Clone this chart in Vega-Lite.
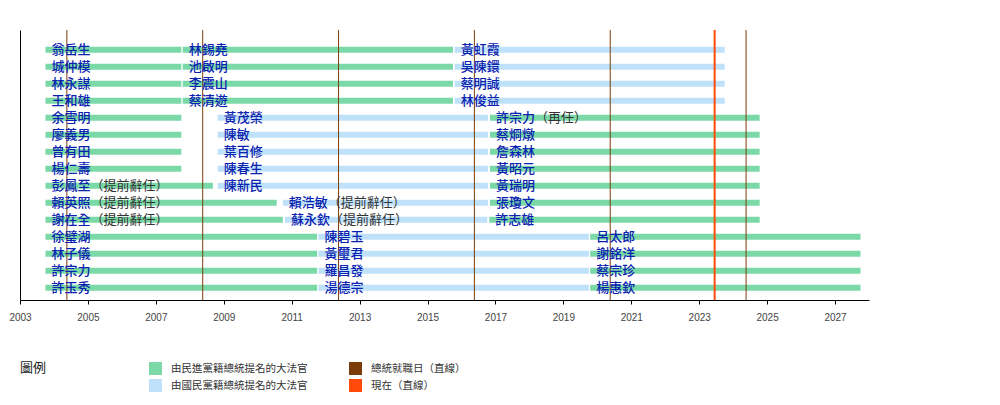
{
  "$schema": "https://vega.github.io/schema/vega-lite/v6.json",
  "autosize": {"type": "none"},
  "width": 849,
  "height": 270,
  "padding": {"left": 20, "top": 30, "right": 131, "bottom": 105},
  "background": "white",
  "config": {"view": {"stroke": null}, "font": "Noto Sans CJK TC"},
  "datasets": {
    "segs": [
      {"row": 1, "start": 2003.75, "end": 2007.75, "party": "由民進黨籍總統提名的大法官", "name": "翁岳生", "note": ""},
      {"row": 2, "start": 2003.75, "end": 2007.75, "party": "由民進黨籍總統提名的大法官", "name": "城仲模", "note": ""},
      {"row": 3, "start": 2003.75, "end": 2007.75, "party": "由民進黨籍總統提名的大法官", "name": "林永謀", "note": ""},
      {"row": 4, "start": 2003.75, "end": 2007.75, "party": "由民進黨籍總統提名的大法官", "name": "王和雄", "note": ""},
      {"row": 1, "start": 2007.79, "end": 2015.75, "party": "由民進黨籍總統提名的大法官", "name": "林錫堯", "note": ""},
      {"row": 2, "start": 2007.79, "end": 2015.75, "party": "由民進黨籍總統提名的大法官", "name": "池啟明", "note": ""},
      {"row": 3, "start": 2007.79, "end": 2015.75, "party": "由民進黨籍總統提名的大法官", "name": "李震山", "note": ""},
      {"row": 4, "start": 2007.79, "end": 2015.75, "party": "由民進黨籍總統提名的大法官", "name": "蔡清遊", "note": ""},
      {"row": 1, "start": 2015.8, "end": 2023.75, "party": "由國民黨籍總統提名的大法官", "name": "黃虹霞", "note": ""},
      {"row": 2, "start": 2015.8, "end": 2023.75, "party": "由國民黨籍總統提名的大法官", "name": "吳陳鐶", "note": ""},
      {"row": 3, "start": 2015.8, "end": 2023.75, "party": "由國民黨籍總統提名的大法官", "name": "蔡明誠", "note": ""},
      {"row": 4, "start": 2015.8, "end": 2023.75, "party": "由國民黨籍總統提名的大法官", "name": "林俊益", "note": ""},
      {"row": 5, "start": 2003.75, "end": 2007.75, "party": "由民進黨籍總統提名的大法官", "name": "余雪明", "note": ""},
      {"row": 6, "start": 2003.75, "end": 2007.75, "party": "由民進黨籍總統提名的大法官", "name": "廖義男", "note": ""},
      {"row": 7, "start": 2003.75, "end": 2007.75, "party": "由民進黨籍總統提名的大法官", "name": "曾有田", "note": ""},
      {"row": 8, "start": 2003.75, "end": 2007.75, "party": "由民進黨籍總統提名的大法官", "name": "楊仁壽", "note": ""},
      {"row": 5, "start": 2008.82, "end": 2016.78, "party": "由國民黨籍總統提名的大法官", "name": "黃茂榮", "note": ""},
      {"row": 6, "start": 2008.82, "end": 2016.78, "party": "由國民黨籍總統提名的大法官", "name": "陳敏", "note": ""},
      {"row": 7, "start": 2008.82, "end": 2016.78, "party": "由國民黨籍總統提名的大法官", "name": "葉百修", "note": ""},
      {"row": 8, "start": 2008.82, "end": 2016.78, "party": "由國民黨籍總統提名的大法官", "name": "陳春生", "note": ""},
      {"row": 5, "start": 2016.84, "end": 2024.78, "party": "由民進黨籍總統提名的大法官", "name": "許宗力", "note": "（再任）"},
      {"row": 6, "start": 2016.84, "end": 2024.78, "party": "由民進黨籍總統提名的大法官", "name": "蔡烱燉", "note": ""},
      {"row": 7, "start": 2016.84, "end": 2024.78, "party": "由民進黨籍總統提名的大法官", "name": "詹森林", "note": ""},
      {"row": 8, "start": 2016.84, "end": 2024.78, "party": "由民進黨籍總統提名的大法官", "name": "黃昭元", "note": ""},
      {"row": 9, "start": 2003.75, "end": 2008.68, "party": "由民進黨籍總統提名的大法官", "name": "彭鳳至", "note": "（提前辭任）"},
      {"row": 9, "start": 2008.82, "end": 2016.78, "party": "由國民黨籍總統提名的大法官", "name": "陳新民", "note": ""},
      {"row": 9, "start": 2016.84, "end": 2024.78, "party": "由民進黨籍總統提名的大法官", "name": "黃瑞明", "note": ""},
      {"row": 10, "start": 2003.75, "end": 2010.56, "party": "由民進黨籍總統提名的大法官", "name": "賴英照", "note": "（提前辭任）"},
      {"row": 10, "start": 2010.74, "end": 2016.78, "party": "由國民黨籍總統提名的大法官", "name": "賴浩敏", "note": "（提前辭任）"},
      {"row": 10, "start": 2016.84, "end": 2024.78, "party": "由民進黨籍總統提名的大法官", "name": "張瓊文", "note": ""},
      {"row": 11, "start": 2003.75, "end": 2010.74, "party": "由民進黨籍總統提名的大法官", "name": "謝在全", "note": "（提前辭任）"},
      {"row": 11, "start": 2010.8, "end": 2016.76, "party": "由國民黨籍總統提名的大法官", "name": "蘇永欽", "note": "（提前辭任）"},
      {"row": 11, "start": 2016.82, "end": 2024.78, "party": "由民進黨籍總統提名的大法官", "name": "許志雄", "note": ""},
      {"row": 12, "start": 2003.75, "end": 2011.75, "party": "由民進黨籍總統提名的大法官", "name": "徐璧湖", "note": ""},
      {"row": 13, "start": 2003.75, "end": 2011.75, "party": "由民進黨籍總統提名的大法官", "name": "林子儀", "note": ""},
      {"row": 14, "start": 2003.75, "end": 2011.75, "party": "由民進黨籍總統提名的大法官", "name": "許宗力", "note": ""},
      {"row": 15, "start": 2003.75, "end": 2011.75, "party": "由民進黨籍總統提名的大法官", "name": "許玉秀", "note": ""},
      {"row": 12, "start": 2011.79, "end": 2019.75, "party": "由國民黨籍總統提名的大法官", "name": "陳碧玉", "note": ""},
      {"row": 13, "start": 2011.79, "end": 2019.75, "party": "由國民黨籍總統提名的大法官", "name": "黃璽君", "note": ""},
      {"row": 14, "start": 2011.79, "end": 2019.75, "party": "由國民黨籍總統提名的大法官", "name": "羅昌發", "note": ""},
      {"row": 15, "start": 2011.79, "end": 2019.75, "party": "由國民黨籍總統提名的大法官", "name": "湯德宗", "note": ""},
      {"row": 12, "start": 2019.79, "end": 2027.75, "party": "由民進黨籍總統提名的大法官", "name": "呂太郎", "note": ""},
      {"row": 13, "start": 2019.79, "end": 2027.75, "party": "由民進黨籍總統提名的大法官", "name": "謝銘洋", "note": ""},
      {"row": 14, "start": 2019.79, "end": 2027.75, "party": "由民進黨籍總統提名的大法官", "name": "蔡宗珍", "note": ""},
      {"row": 15, "start": 2019.79, "end": 2027.75, "party": "由民進黨籍總統提名的大法官", "name": "楊惠欽", "note": ""}
    ],
    "lines": [
      {"date": 2004.38, "kind": "總統就職日（直線）"},
      {"date": 2008.38, "kind": "總統就職日（直線）"},
      {"date": 2012.38, "kind": "總統就職日（直線）"},
      {"date": 2016.38, "kind": "總統就職日（直線）"},
      {"date": 2020.38, "kind": "總統就職日（直線）"},
      {"date": 2024.38, "kind": "總統就職日（直線）"},
      {"date": 2023.455, "kind": "現在（直線）"}
    ]
  },
  "layer": [
    {
      "data": {"name": "segs"},
      "mark": {"type": "bar", "size": 6},
      "encoding": {
        "y": {"field": "row", "type": "ordinal", "scale": {"paddingInner": 0, "paddingOuter": 0.441, "align": 0.75},
              "axis": {"labels": false, "ticks": false, "title": null, "domainColor": "#000", "domainWidth": 1}},
        "x": {"field": "start", "type": "quantitative", "scale": {"domain": [2003, 2028], "nice": false, "zero": false},
              "axis": {"values": [2003, 2005, 2007, 2009, 2011, 2013, 2015, 2017, 2019, 2021, 2023, 2025, 2027],
                       "format": "d", "title": null, "grid": false, "domainColor": "#000", "tickColor": "#000", "tickSize": 4,
                       "labelFlush": false, "labelFont": "Liberation Sans", "labelFontSize": 10, "labelColor": "#444", "labelPadding": 8}},
        "x2": {"field": "end"},
        "color": {"field": "party", "type": "nominal",
                  "scale": {"domain": ["由民進黨籍總統提名的大法官", "總統就職日（直線）", "由國民黨籍總統提名的大法官", "現在（直線）"],
                            "range": ["#7bd9a8", "#7a3d0a", "#bfe1f9", "#ff4a0a"]},
                  "legend": {"title": "圖例", "orient": "none", "legendX": 0, "legendY": 332, "columns": 2, "direction": "horizontal",
                             "titleOrient": "left", "titleAnchor": "start", "titleBaseline": "top", "titlePadding": 102, "titleFontSize": 13, "titleFontWeight": "normal", "titleColor": "#222",
                             "symbolType": "square", "symbolSize": 169, "symbolStrokeWidth": 0, "labelFontSize": 10.5, "labelColor": "#333",
                             "labelOffset": 9, "rowPadding": 4, "columnPadding": 41, "padding": 0, "labelLimit": 300}}
      }
    },
    {
      "data": {"name": "lines"},
      "mark": {"type": "rule"},
      "encoding": {
        "x": {"field": "date", "type": "quantitative"},
        "color": {"field": "kind", "type": "nominal"},
        "strokeWidth": {"field": "kind", "type": "nominal", "scale": {"domain": ["總統就職日（直線）", "現在（直線）"], "range": [1, 2]}, "legend": null}
      }
    },
    {
      "data": {"name": "segs"},
      "mark": {"type": "text", "align": "left", "baseline": "middle", "dx": 6, "fontSize": 13, "color": "#0a22b0", "font": "Noto Sans CJK TC", "fontWeight": 500},
      "encoding": {
        "y": {"field": "row", "type": "ordinal"},
        "x": {"field": "start", "type": "quantitative"},
        "text": {"field": "name"}
      }
    },
    {
      "data": {"name": "segs"},
      "mark": {"type": "text", "align": "left", "baseline": "middle", "dx": 45, "fontSize": 13, "color": "#333", "font": "Noto Sans CJK TC"},
      "encoding": {
        "y": {"field": "row", "type": "ordinal"},
        "x": {"field": "start", "type": "quantitative"},
        "text": {"field": "note"}
      }
    }
  ]
}
